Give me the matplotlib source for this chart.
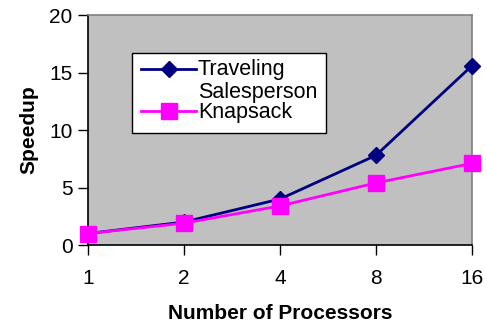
import matplotlib
matplotlib.use("Agg")
import matplotlib.pyplot as plt
from matplotlib.lines import Line2D
from matplotlib.patches import Rectangle

plt.rcParams['font.family'] = ['Liberation Sans', 'DejaVu Sans']

procs = ["1", "2", "4", "8", "16"]
tsp = [1.0, 2.0, 4.0, 7.8, 15.6]
knapsack = [1.0, 1.9, 3.4, 5.4, 7.1]

fig = plt.figure(figsize=(4.87, 3.28), dpi=100)
ax = fig.add_axes([0.1807, 0.253, 0.7885, 0.701])
ax.set_facecolor("#c0c0c0")

x = list(range(len(procs)))
ax.plot(x, tsp, color="#000080", lw=2, marker="D", ms=8, mfc="#000080", mec="#000080", clip_on=False, zorder=3)
ax.plot(x, knapsack, color="#ff00ff", lw=2, marker="s", ms=11, mfc="#ff00ff", mec="#ff00ff", clip_on=False, zorder=4)

ax.set_xlim(0, len(procs) - 1)
ax.set_ylim(0, 20)
ax.set_xticks(x)
ax.set_xticklabels(procs)
ax.set_yticks([0, 5, 10, 15, 20])
ax.tick_params(axis="both", direction="out", length=7, width=1, labelsize=15, colors="black")
ax.tick_params(axis="x", pad=10)
ax.tick_params(axis="y", pad=4)

for s in ["left", "bottom"]:
    ax.spines[s].set_color("black")
    ax.spines[s].set_linewidth(1.2)
for s in ["top", "right"]:
    ax.spines[s].set_color("#808080")
    ax.spines[s].set_linewidth(1.2)

ax.set_xlabel("Number of Processors", fontsize=15, fontweight="bold", labelpad=12)
ax.set_ylabel("Speedup", fontsize=15, fontweight="bold", labelpad=8)

# excel style legend box
ax.add_patch(Rectangle((0.115, 0.487), 0.505, 0.348, transform=ax.transAxes,
                       facecolor="white", edgecolor="black", lw=1, zorder=5))
ax.add_line(Line2D([0.138, 0.21, 0.281], [0.767, 0.767, 0.767], transform=ax.transAxes,
                   color="#000080", lw=2, marker="D", markevery=[1], ms=8, zorder=6))
ax.add_line(Line2D([0.138, 0.21, 0.281], [0.583, 0.583, 0.583], transform=ax.transAxes,
                   color="#ff00ff", lw=2, marker="s", markevery=[1], ms=11, zorder=6))
ax.text(0.286, 0.763, "Traveling", transform=ax.transAxes, fontsize=15.5, va="center", zorder=7)
ax.text(0.286, 0.665, "Salesperson", transform=ax.transAxes, fontsize=15.5, va="center", zorder=7)
ax.text(0.286, 0.578, "Knapsack", transform=ax.transAxes, fontsize=15.5, va="center", zorder=7)

fig.savefig("out.png", dpi=100)
